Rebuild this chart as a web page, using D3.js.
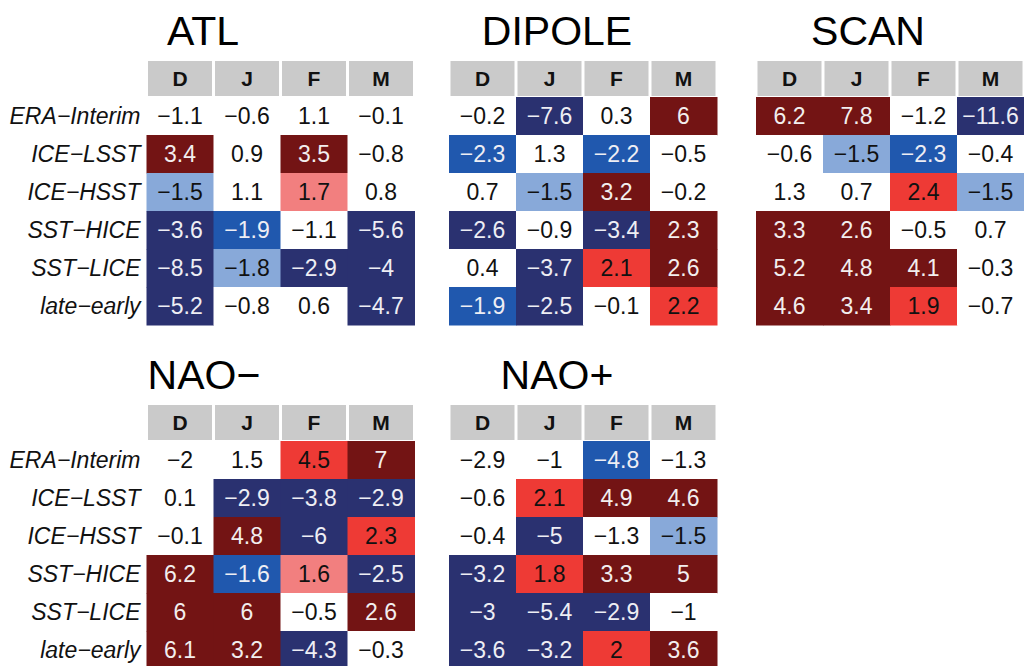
<!DOCTYPE html>
<html>
<head>
<meta charset="utf-8">
<script src="https://cdn.jsdelivr.net/npm/d3@7"></script>
<style>
  html, body { margin: 0; padding: 0; background: #ffffff; }
  svg { display: block; }
  text { font-family: "Liberation Sans", Arial, Helvetica, sans-serif; }
</style>
</head>
<body>
<svg id="chart" width="1024" height="666"></svg>
<script>
// Months (columns) and experiment differences (rows)
const months = ["D", "J", "F", "M"];
const runs = ["ERA−Interim", "ICE−LSST", "ICE−HSST", "SST−HICE", "SST−LICE", "late−early"];

// Values per regime: rows follow `runs`, columns follow `months`
const atlValues = [
  [-1.1, -0.6, 1.1, -0.1],
  [3.4, 0.9, 3.5, -0.8],
  [-1.5, 1.1, 1.7, 0.8],
  [-3.6, -1.9, -1.1, -5.6],
  [-8.5, -1.8, -2.9, -4],
  [-5.2, -0.8, 0.6, -4.7]
];
const dipoleValues = [
  [-0.2, -7.6, 0.3, 6],
  [-2.3, 1.3, -2.2, -0.5],
  [0.7, -1.5, 3.2, -0.2],
  [-2.6, -0.9, -3.4, 2.3],
  [0.4, -3.7, 2.1, 2.6],
  [-1.9, -2.5, -0.1, 2.2]
];
const scanValues = [
  [6.2, 7.8, -1.2, -11.6],
  [-0.6, -1.5, -2.3, -0.4],
  [1.3, 0.7, 2.4, -1.5],
  [3.3, 2.6, -0.5, 0.7],
  [5.2, 4.8, 4.1, -0.3],
  [4.6, 3.4, 1.9, -0.7]
];
const naoMinusValues = [
  [-2, 1.5, 4.5, 7],
  [0.1, -2.9, -3.8, -2.9],
  [-0.1, 4.8, -6, 2.3],
  [6.2, -1.6, 1.6, -2.5],
  [6, 6, -0.5, 2.6],
  [6.1, 3.2, -4.3, -0.3]
];
const naoPlusValues = [
  [-2.9, -1, -4.8, -1.3],
  [-0.6, 2.1, 4.9, 4.6],
  [-0.4, -5, -1.3, -1.5],
  [-3.2, 1.8, 3.3, 5],
  [-3, -5.4, -2.9, -1],
  [-3.6, -3.2, 2, 3.6]
];

// Significance class of each change: sign gives direction,
// magnitude 1..3 the confidence level (0 = not significant)
const atlSignif = [
  [0, 0, 0, 0],
  [3, 0, 3, 0],
  [-1, 0, 1, 0],
  [-3, -2, 0, -3],
  [-3, -1, -3, -3],
  [-3, 0, 0, -3]
];
const dipoleSignif = [
  [0, -3, 0, 3],
  [-2, 0, -2, 0],
  [0, -1, 3, 0],
  [-3, 0, -3, 3],
  [0, -3, 2, 3],
  [-2, -3, 0, 2]
];
const scanSignif = [
  [3, 3, 0, -3],
  [0, -1, -2, 0],
  [0, 0, 2, -1],
  [3, 3, 0, 0],
  [3, 3, 3, 0],
  [3, 3, 2, 0]
];
const naoMinusSignif = [
  [0, 0, 2, 3],
  [0, -3, -3, -3],
  [0, 3, -3, 2],
  [3, -2, 1, -3],
  [3, 3, 0, 3],
  [3, 3, -3, 0]
];
const naoPlusSignif = [
  [0, 0, -2, 0],
  [0, 2, 3, 3],
  [0, -3, 0, -1],
  [-3, 2, 3, 3],
  [-3, -3, -3, 0],
  [-3, -3, 2, 3]
];

const regimeNames = ["ATL", "DIPOLE", "SCAN", "NAO−", "NAO+"];

// Fill and label colour for each significance class
const levels = [-3, -2, -1, 0, 1, 2, 3];
const fill = d3.scaleOrdinal()
  .domain(levels)
  .range(["#2a3170", "#2058ae", "#88a9d9", "#ffffff", "#f27f7f", "#ee3a35", "#731414"]);
const ink = d3.scaleOrdinal()
  .domain(levels)
  .range(["#eeeef4", "#eeeef4", "#111111", "#111111", "#111111", "#111111", "#f2eeee"]);

const panels = [
  { name: regimeNames[0], values: atlValues, signif: atlSignif, x0: 146.5, top: 61, titleX: 203, labels: true },
  { name: regimeNames[1], values: dipoleValues, signif: dipoleSignif, x0: 449, top: 61, titleX: 557, labels: false },
  { name: regimeNames[2], values: scanValues, signif: scanSignif, x0: 756, top: 61, titleX: 868, labels: false },
  { name: regimeNames[3], values: naoMinusValues, signif: naoMinusSignif, x0: 146.5, top: 405, titleX: 204, labels: true },
  { name: regimeNames[4], values: naoPlusValues, signif: naoPlusSignif, x0: 449, top: 405, titleX: 557, labels: false }
];

const colW = 67, headH = 35, rowH = 38, headGap = 1;
const fmt = v => (v < 0 ? "−" : "") + String(Math.abs(v));

const svg = d3.select("#chart");

panels.forEach(p => {
  const x = d3.scaleBand().domain(months).range([p.x0, p.x0 + colW * months.length]);
  const yTop = p.top + headH + headGap;
  const y = d3.scaleBand().domain(runs).range([yTop, yTop + rowH * runs.length]);

  const g = svg.append("g").attr("class", "panel");

  // Regime title
  g.append("text")
    .attr("x", p.titleX)
    .attr("y", p.top - 16)
    .attr("text-anchor", "middle")
    .attr("font-size", 41)
    .attr("fill", "#000")
    .text(p.name);

  // Month header strip
  const head = g.selectAll("g.head").data(months).join("g").attr("class", "head");
  head.append("rect")
    .attr("x", d => x(d) + 1.5)
    .attr("y", p.top)
    .attr("width", x.bandwidth() - 3)
    .attr("height", headH)
    .attr("fill", "#cacaca");
  head.append("text")
    .attr("x", d => x(d) + x.bandwidth() / 2)
    .attr("y", p.top + headH / 2)
    .attr("dy", "0.36em")
    .attr("text-anchor", "middle")
    .attr("font-size", 21)
    .attr("font-weight", "bold")
    .attr("fill", "#111")
    .text(d => d);

  // Heat-map cells
  const cells = [];
  runs.forEach((r, i) => months.forEach((m, j) => {
    cells.push({ run: r, month: m, value: p.values[i][j], sig: p.signif[i][j] });
  }));

  g.selectAll("rect.cell").data(cells).join("rect")
    .attr("class", "cell")
    .attr("x", d => x(d.month))
    .attr("y", d => y(d.run))
    .attr("width", x.bandwidth() + 0.5)
    .attr("height", y.bandwidth() + 0.5)
    .attr("fill", d => fill(d.sig));

  g.selectAll("text.val").data(cells).join("text")
    .attr("class", "val")
    .attr("x", d => x(d.month) + x.bandwidth() / 2)
    .attr("y", d => y(d.run) + y.bandwidth() / 2)
    .attr("dy", "0.36em")
    .attr("text-anchor", "middle")
    .attr("font-size", 23)
    .attr("fill", d => ink(d.sig))
    .text(d => fmt(d.value));

  // Row labels on the left-hand panels
  if (p.labels) {
    g.selectAll("text.run").data(runs).join("text")
      .attr("class", "run")
      .attr("x", p.x0 - 6)
      .attr("y", d => y(d) + y.bandwidth() / 2)
      .attr("dy", "0.36em")
      .attr("text-anchor", "end")
      .attr("font-size", 23)
      .attr("font-style", "italic")
      .attr("fill", "#111")
      .text(d => d);
  }
});
</script>
</body>
</html>
